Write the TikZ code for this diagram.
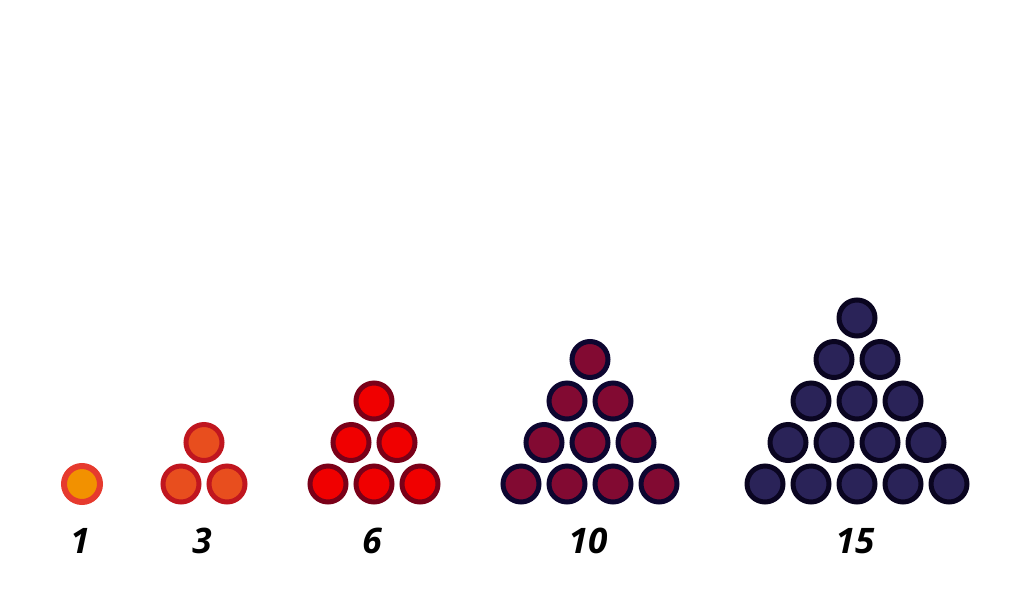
\documentclass[tikz,border=0pt]{standalone}
\usepackage{fontspec}
\setmainfont{Open Sans}

\definecolor{oneFill}{HTML}{F29100}
\definecolor{oneLine}{HTML}{E63A2E}
\definecolor{threeFill}{HTML}{E84E1E}
\definecolor{threeLine}{HTML}{C0161F}
\definecolor{sixFill}{HTML}{F00000}
\definecolor{sixLine}{HTML}{7A0018}
\definecolor{tenFill}{HTML}{820A32}
\definecolor{tenLine}{HTML}{0D0630}
\definecolor{fifteenFill}{HTML}{2A2358}
\definecolor{fifteenLine}{HTML}{0A0520}

\begin{document}
\begin{tikzpicture}[x=0.02cm, y=0.02cm,
  ball/.style={circle, inner sep=0pt, minimum size=0.72cm},
  count/.style={font=\fontsize{20}{24}\selectfont\bfseries\itshape}]

  \useasboundingbox (0,0) rectangle (1024,600);

  % triangular numbers, one triangle of balls per term
  \foreach \n/\xo/\fc/\dc/\lw/\lab in {1/82/oneFill/oneLine/0.12cm/1,
      2/181/threeFill/threeLine/0.1cm/3,
      3/328/sixFill/sixLine/0.1cm/6,
      4/521/tenFill/tenLine/0.1cm/10,
      5/765/fifteenFill/fifteenLine/0.1cm/15}
  {
    \pgfmathtruncatemacro{\last}{\n-1}
    \foreach \r in {0,...,\last} {
      \pgfmathtruncatemacro{\k}{\n-\r-1}
      \foreach \c in {0,...,\k}
        \node[ball, fill=\fc, draw=\dc, line width=\lw] (b\n-\r-\c)
          at ({\xo+\r*23+\c*46},{116+\r*41.5}) {};
    }
    \node[count] (lab\n) at ({\xo+(\n-1)*23-2},59) {\lab};
  }

\end{tikzpicture}
\end{document}
